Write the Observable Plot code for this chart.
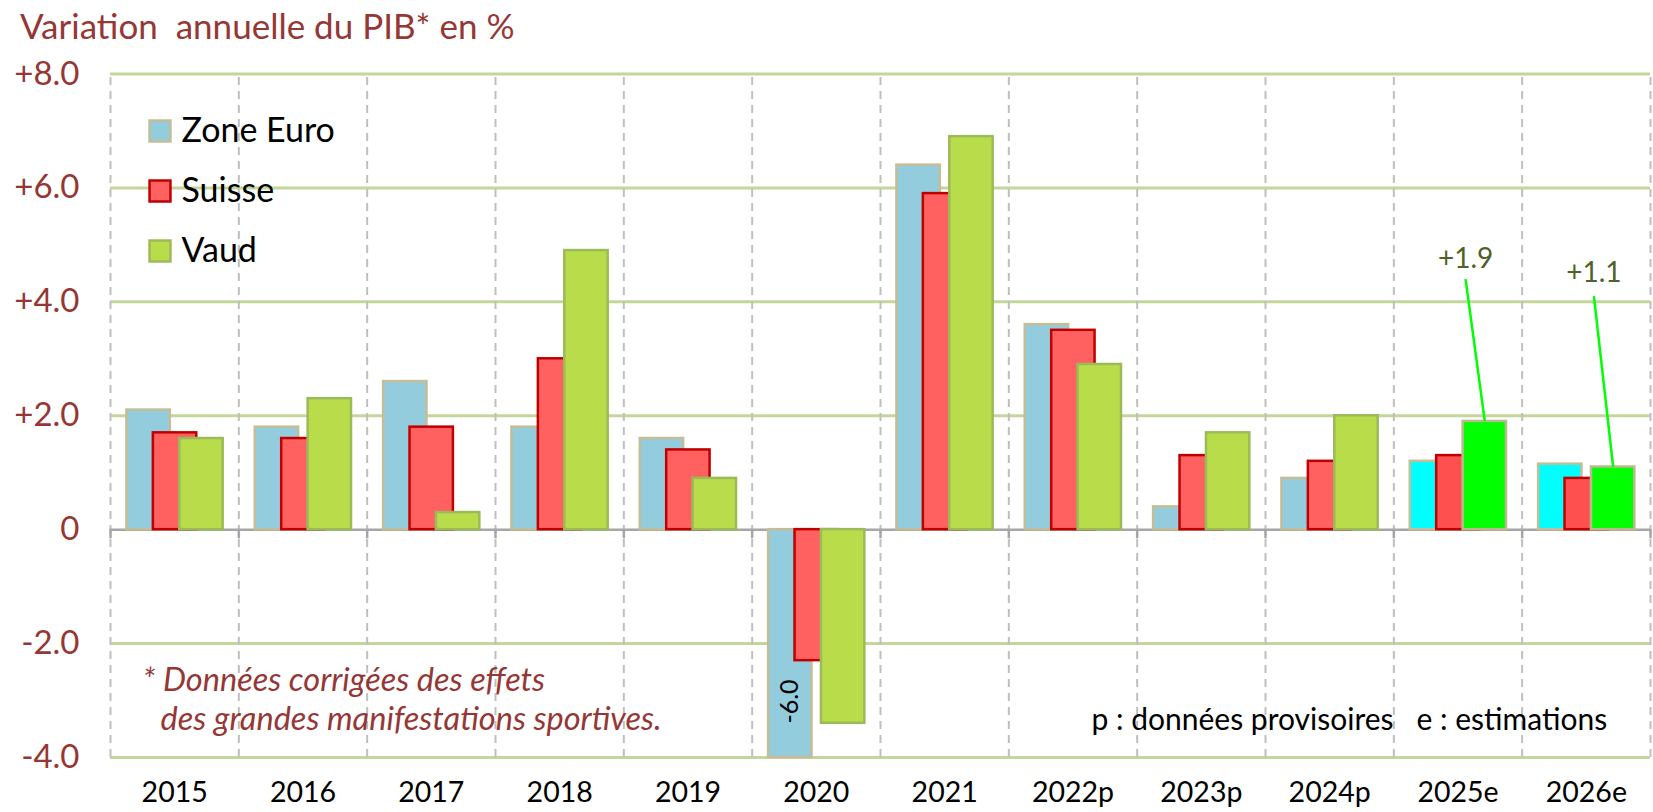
<!DOCTYPE html>
<html><head><meta charset="utf-8">
<script src="https://cdn.jsdelivr.net/npm/d3@7"></script>
<script src="https://cdn.jsdelivr.net/npm/@observablehq/plot@0.6"></script>
<style>
body{margin:0;background:#fff;font-family:Lato,"Open Sans",sans-serif;}
#wrap{position:relative;width:1653px;height:812px;overflow:hidden;}
#title{position:absolute;left:20px;top:8px;font-size:35px;color:#953735;white-space:pre;line-height:1;}
#chart{position:absolute;left:0;top:50px;}
</style></head><body>
<div id="wrap"><div id="title">Variation  annuelle du PIB* en %</div><div id="chart"></div></div>
<script>
// ---- data ----
const years = ["2015","2016","2017","2018","2019","2020","2021","2022p","2023p","2024p","2025e","2026e"];
const zoneEuro = [2.1, 1.8, 2.6, 1.8, 1.6, -6.0, 6.4, 3.6, 0.4, 0.9, 1.2, 1.15];
const suisse   = [1.7, 1.6, 1.8, 3.0, 1.4, -2.3, 5.9, 3.5, 1.3, 1.2, 1.3, 0.9];
const vaud     = [1.6, 2.3, 0.3, 4.9, 0.9, -3.4, 6.9, 2.9, 1.7, 2.0, 1.9, 1.1];
const estimated = [false,false,false,false,false,false,false,false,false,false,true,true];
const seriesNames = ["Zone Euro","Suisse","Vaud"];
const yTicks = [-4,-2,0,2,4,6,8];
const callouts = [
  {year:"2025e", value:1.9, label:"+1.9", lineTop:4.4, labelY:4.75},
  {year:"2026e", value:1.1, label:"+1.1", lineTop:4.1, labelY:4.5}
];
const clippedNote = {year:"2020", value:-6.0};

// ---- styles ----
const W = 1653, H = 762;
const barW = 0.338;
const styles = [
  {values: zoneEuro, start:0.128, fill:"#93CDDD", fillEst:"#00FFFF", stroke:"#C4BD97", strokeEst:"#C4BD97"},
  {values: suisse,   start:0.334, fill:"#FF6161", fillEst:"#FF5050", stroke:"#C00000", strokeEst:"#C00000"},
  {values: vaud,     start:0.540, fill:"#B9DD4A", fillEst:"#00FF00", stroke:"#9BBB59", strokeEst:"#BDB98F"}
];
const rows = years.map((y,i)=>({i, year:y, est: estimated[i]}));
const idx = y => years.indexOf(y);
const fmt = d => d === 0 ? "0" : (d > 0 ? "+" : "") + d.toFixed(1);

const marks = [];
marks.push(Plot.ruleY(yTicks.filter(d=>d!==0), {stroke:"#C3D69B", strokeWidth:3}));
marks.push(Plot.ruleX(d3.range(years.length+1), {y1:-4, y2:8, stroke:"#BFBFBF", strokeWidth:2, strokeDasharray:"8,6"}));
marks.push(Plot.ruleY([0], {stroke:"#A6A6A6", strokeWidth:2.5}));
marks.push(Plot.ruleX(d3.range(years.length+1), {y1:0, y2:-0.16, stroke:"#A6A6A6", strokeWidth:2.5}));
styles.forEach(s=>{
  marks.push(Plot.rectY(rows, {
    x1: d=>d.i + s.start, x2: d=>d.i + s.start + barW,
    y1: 0, y2: d=>s.values[d.i],
    fill: d=>d.est ? s.fillEst : s.fill,
    stroke: d=>d.est ? s.strokeEst : s.stroke,
    strokeWidth: 2.5
  }));
});
marks.push(Plot.text([clippedNote], {
  x: d=>idx(d.year) + styles[0].start + barW/2, y: -4, dy:-56,
  text: d=>d.value.toFixed(1), rotate:-90, fontSize:25, fill:"#000"
}));
marks.push(Plot.link(callouts, {
  x1: d=>idx(d.year) + styles[2].start + barW/2, y1: d=>d.value,
  x2: d=>idx(d.year) + styles[2].start + barW/2 - 0.15, y2: d=>d.lineTop,
  stroke:"#00FF00", strokeWidth:2.5
}));
marks.push(Plot.text(callouts, {
  x: d=>idx(d.year) + styles[2].start + barW/2 - 0.15, y: d=>d.labelY,
  text: d=>d.label, fontSize:28, fill:"#4F6228"
}));
seriesNames.forEach((name,k)=>{
  const s = styles[k];
  marks.push(Plot.dot([name], {frameAnchor:"top-left", dx:49.5, dy:57 + 60*k, symbol:"square", r:11.8,
    fill:s.fill, stroke:s.stroke, strokeWidth:2.5}));
  marks.push(Plot.text([name], {frameAnchor:"top-left", dx:71, dy:57 + 60*k, text:d=>d, textAnchor:"start",
    lineAnchor:"middle", fontSize:34, fill:"#000"}));
});
marks.push(Plot.text(["* Données corrigées des effets"], {frameAnchor:"bottom-left", dx:32, dy:-77, text:d=>d,
  textAnchor:"start", lineAnchor:"middle", fontSize:32.5, fontStyle:"italic", fill:"#953735"}));
marks.push(Plot.text(["des grandes manifestations sportives."], {frameAnchor:"bottom-left", dx:50, dy:-38, text:d=>d,
  textAnchor:"start", lineAnchor:"middle", fontSize:32.5, fontStyle:"italic", fill:"#953735"}));
marks.push(Plot.text(["p : données provisoires   e : estimations"], {frameAnchor:"bottom-left", dx:981, dy:-37, text:d=>d,
  textAnchor:"start", lineAnchor:"middle", fontSize:30, fill:"#000", style:"white-space:pre"}));
marks.push(Plot.axisY({ticks:yTicks, tickFormat:fmt, tickSize:0, tickPadding:31, fontSize:33, fill:"#953735", label:null}));
marks.push(Plot.axisX({ticks:d3.range(years.length).map(i=>i+0.5), tickFormat:d=>years[Math.floor(d)],
  tickSize:0, tickPadding:24, fontSize:28.5, fill:"#000", label:null}));

const chart = Plot.plot({
  width: W, height: H,
  marginLeft: 110, marginRight: 3, marginTop: 23.5, marginBottom: 55,
  x: {type:"linear", domain:[0, years.length]},
  y: {domain:[-4, 8], clamp:true},
  style: {fontFamily:"Lato, 'Open Sans', sans-serif", background:"#fff", overflow:"visible"},
  marks
});
document.getElementById("chart").appendChild(chart);
</script>
</body></html>
